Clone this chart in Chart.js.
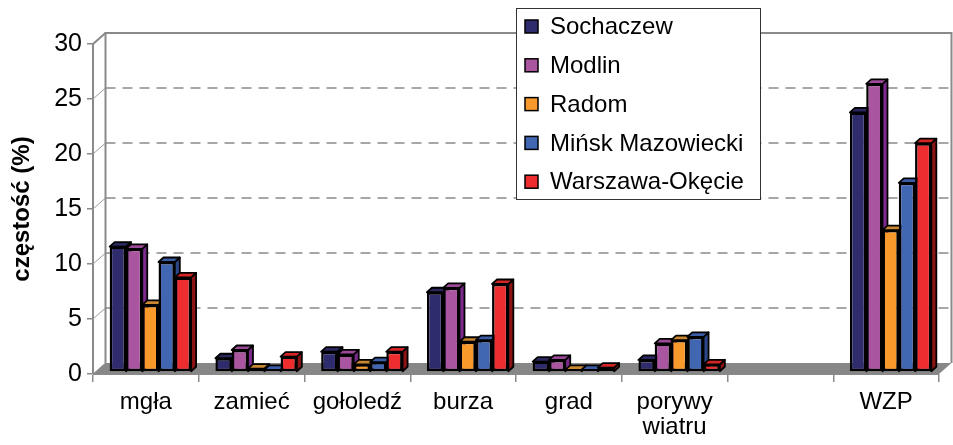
<!DOCTYPE html>
<html>
<head>
<meta charset="utf-8">
<script src="https://cdn.jsdelivr.net/npm/chart.js@4/dist/chart.umd.min.js"></script>
<style>
html,body{margin:0;padding:0;background:#fff;}
#wrap{width:953px;height:445px;}
</style>
</head>
<body>
<div id="wrap"><canvas id="c" width="953" height="445"></canvas></div>
<script>
// ---- data ----
const categories = ['mgła', 'zamieć', 'gołoledź', 'burza', 'grad', ['porywy', 'wiatru'], '', 'WZP'];
const seriesNames = ['Sochaczew', 'Modlin', 'Radom', 'Mińsk Mazowiecki', 'Warszawa-Okęcie'];
const sochaczew = [11.4, 1.25, 1.85, 7.25, 0.95, 1.1, null, 23.6];
const modlin    = [11.2, 2.0, 1.6, 7.65, 1.1, 2.6, null, 26.2];
const radom     = [6.1, 0.3, 0.7, 2.75, 0.2, 2.9, null, 12.9];
const minsk     = [10.0, 0.2, 0.9, 2.9, 0.2, 3.2, null, 17.2];
const warszawa  = [8.6, 1.4, 1.85, 8.0, 0.4, 0.7, null, 20.8];
const yTicks = [0, 5, 10, 15, 20, 25, 30];

// ---- styles ----
const FONT = '"Liberation Sans", Arial, sans-serif';
const fronts = ['#2F2C6E', '#AA55A0', '#F7992B', '#4267B2', '#EE2E2E'];
const tops   = ['#29275E', '#9C4A98', '#C98733', '#3A5DA6', '#D42525'];
const sides  = ['#201E4C', '#7B2A8C', '#A86618', '#2C4788', '#8C1414'];
const BAR_SHIFT = {x: 4.5, y: -2};
const BAR_DEPTH = {x: 5, y: -4.5};
const WALL = {x: 12.5, y: -11};

const allSeries = [sochaczew, modlin, radom, minsk, warszawa];
const datasets = allSeries.map((d, i) => ({
  label: seriesNames[i],
  data: d,
  backgroundColor: fronts[i],
  borderColor: '#000',
  borderWidth: 2.5,
  borderSkipped: false,
  barPercentage: 1.0,
  categoryPercentage: 0.77,
  clip: false
}));

function drawFaces(chart) {
  const ctx = chart.ctx;
  ctx.save();
  ctx.translate(BAR_SHIFT.x, BAR_SHIFT.y);
  ctx.lineWidth = 1.8;
  ctx.strokeStyle = '#000';
  ctx.lineJoin = 'round';
  const dx = BAR_DEPTH.x, dy = BAR_DEPTH.y;
  const n = categories.length;
  for (let k = 0; k < n; k++) {
    for (let i = 0; i < allSeries.length; i++) {
      if (allSeries[i][k] == null) continue;
      const el = chart.getDatasetMeta(i).data[k];
      const p = el.getProps(['x', 'y', 'base', 'width'], true);
      const l = p.x - p.width / 2, r = p.x + p.width / 2;
      const t = Math.min(p.y, p.base), b = Math.max(p.y, p.base);
      // side face
      ctx.fillStyle = sides[i];
      ctx.beginPath();
      ctx.moveTo(r, t); ctx.lineTo(r + dx, t + dy); ctx.lineTo(r + dx, b + dy); ctx.lineTo(r, b);
      ctx.closePath(); ctx.fill(); ctx.stroke();
      // top face
      ctx.fillStyle = tops[i];
      ctx.beginPath();
      ctx.moveTo(l, t); ctx.lineTo(l + dx, t + dy); ctx.lineTo(r + dx, t + dy); ctx.lineTo(r, t);
      ctx.closePath(); ctx.fill(); ctx.stroke();
    }
  }
  ctx.restore();
}

const wallPlugin = {
  id: 'walls',
  beforeDatasetsDraw(chart) {
    const ctx = chart.ctx, a = chart.chartArea, ys = chart.scales.y;
    ctx.save();
    // back wall
    ctx.fillStyle = '#fff';
    ctx.beginPath();
    ctx.rect(a.left + WALL.x, a.top + WALL.y, a.right - a.left, a.bottom - a.top);
    ctx.fill();
    // back gridlines (dashed)
    ctx.strokeStyle = '#8a8a8a';
    ctx.lineWidth = 1.5;
    ctx.setLineDash([10, 7]);
    yTicks.forEach(v => {
      if (v === 0 || v === 30) return;
      const y = ys.getPixelForValue(v) + WALL.y;
      ctx.beginPath();
      ctx.moveTo(a.left + WALL.x, y);
      ctx.lineTo(a.right + WALL.x, y);
      ctx.stroke();
    });
    ctx.setLineDash([]);
    // side wall gridlines (diagonals)
    ctx.strokeStyle = '#9a9a9a';
    ctx.lineWidth = 1;
    yTicks.forEach(v => {
      const y = ys.getPixelForValue(v);
      ctx.beginPath();
      ctx.moveTo(a.left, y);
      ctx.lineTo(a.left + WALL.x, y + WALL.y);
      ctx.stroke();
    });
    // back wall outline
    ctx.strokeStyle = '#8a8a8a';
    ctx.lineWidth = 2;
    ctx.beginPath();
    ctx.moveTo(a.left + WALL.x, a.bottom + WALL.y);
    ctx.lineTo(a.left + WALL.x, a.top + WALL.y);
    ctx.lineTo(a.right + WALL.x, a.top + WALL.y);
    ctx.lineTo(a.right + WALL.x, a.bottom + WALL.y);
    ctx.stroke();
    // floor
    ctx.fillStyle = '#878787';
    ctx.beginPath();
    ctx.moveTo(a.left, a.bottom);
    ctx.lineTo(a.right, a.bottom);
    ctx.lineTo(a.right + WALL.x, a.bottom + WALL.y);
    ctx.lineTo(a.left + WALL.x, a.bottom + WALL.y);
    ctx.closePath();
    ctx.fill();
    ctx.restore();
    // 3D faces of bars (tops and sides), left to right
    drawFaces(chart);
  },
  beforeDatasetDraw(chart) {
    chart.ctx.save();
    chart.ctx.translate(BAR_SHIFT.x, BAR_SHIFT.y);
  },
  afterDatasetDraw(chart) {
    chart.ctx.restore();
  },
  afterDraw(chart) {
    const ctx = chart.ctx;
    ctx.save();
    // left wall top diagonal
    const a = chart.chartArea;
    ctx.strokeStyle = '#8a8a8a';
    ctx.lineWidth = 2;
    ctx.beginPath();
    ctx.moveTo(a.left, a.top);
    ctx.lineTo(a.left + WALL.x, a.top + WALL.y);
    ctx.stroke();
    // legend
    const bx = 516.5, by = 8.5, bw = 244, bh = 191;
    ctx.fillStyle = '#fff';
    ctx.fillRect(bx, by, bw, bh);
    ctx.strokeStyle = '#333';
    ctx.lineWidth = 1;
    ctx.strokeRect(bx, by, bw, bh);
    ctx.font = '24px ' + FONT;
    ctx.textBaseline = 'middle';
    ctx.textAlign = 'left';
    chart.data.datasets.forEach((ds, i) => {
      const cy = 26.5 + i * 38.8;
      ctx.fillStyle = ds.backgroundColor;
      ctx.fillRect(525, cy - 6.5, 13, 13);
      ctx.strokeStyle = '#000';
      ctx.lineWidth = 1.5;
      ctx.strokeRect(525, cy - 6.5, 13, 13);
      ctx.fillStyle = '#000';
      ctx.fillText(ds.label, 550, cy + 1);
    });
    ctx.restore();
  }
};

new Chart(document.getElementById('c'), {
  type: 'bar',
  data: {labels: categories, datasets: datasets},
  options: {
    responsive: false,
    devicePixelRatio: 1,
    animation: false,
    layout: {padding: {left: 0, top: 44, right: 14, bottom: 0}},
    plugins: {legend: {display: false}, tooltip: {enabled: false}},
    scales: {
      x: {
        type: 'category',
        offset: true,
        grid: {display: true, drawOnChartArea: false, drawTicks: true, tickLength: 8, color: '#8a8a8a', lineWidth: 1.5, offset: true},
        border: {display: true, color: '#8a8a8a', width: 1},
        ticks: {font: {family: FONT, size: 24, lineHeight: 1.05}, color: '#000', padding: 8, maxRotation: 0, minRotation: 0, autoSkip: false},
        afterFit(s) { s.height = 71; }
      },
      y: {
        min: 0, max: 30,
        afterBuildTicks(s) { s.ticks = yTicks.map(v => ({value: v})); },
        grid: {display: true, drawOnChartArea: false, drawTicks: true, tickLength: 6, color: '#8a8a8a', lineWidth: 1.5},
        border: {display: true, color: '#8a8a8a', width: 2},
        ticks: {font: {family: FONT, size: 25}, color: '#000', padding: 5},
        title: {display: true, text: 'częstość (%)', font: {family: FONT, size: 24, weight: 'bold'}, color: '#000', padding: {top: 8, bottom: 0}},
        afterFit(s) { s.width = 93; }
      }
    }
  },
  plugins: [wallPlugin]
});
</script>
</body>
</html>
